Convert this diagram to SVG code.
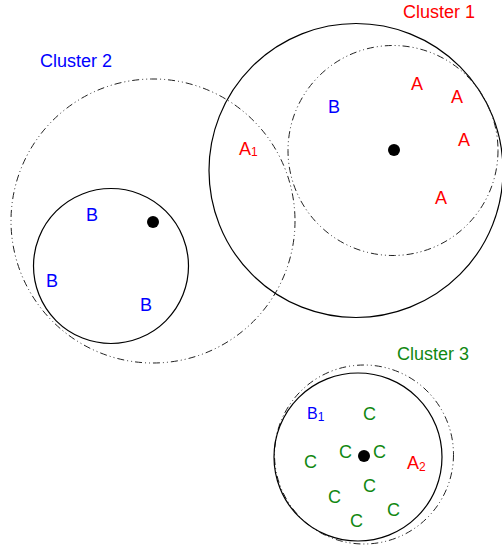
<svg xmlns="http://www.w3.org/2000/svg" width="502" height="549" viewBox="0 0 502 549">
  <style>
    .solid { fill: none; stroke: #000; stroke-width: 1.2; }
    .range { fill: none; stroke: #222; stroke-width: 1; stroke-dasharray: 7 3 1 3 1 3; }
    .centre { fill: #000; }
    text { font-family: "Liberation Sans", Arial, sans-serif; font-size: 18px; }
    .a { fill: #ff0000; }
    .b { fill: #0000ff; }
    .c { fill: #118811; }
    .sub { font-size: 12px; }
  </style>
  <rect width="502" height="549" fill="#fff"/>

  <g id="cluster2">
    <circle class="range" cx="153" cy="221" r="142"/>
    <circle class="solid" cx="111" cy="266" r="77.5"/>
    <circle class="centre" cx="153" cy="222" r="6"/>
    <text class="b" x="40" y="67">Cluster 2</text>
    <text class="b" x="86" y="221">B</text>
    <text class="b" x="46" y="287">B</text>
    <text class="b" x="140" y="311">B</text>
  </g>

  <g id="cluster1">
    <circle class="solid" cx="356" cy="170.5" r="147"/>
    <circle class="range" cx="393" cy="150.5" r="105"/>
    <circle class="centre" cx="394" cy="150" r="6"/>
    <text class="a" x="403" y="18">Cluster 1</text>
    <text class="a" x="411" y="90">A</text>
    <text class="a" x="451" y="103">A</text>
    <text class="a" x="458" y="146">A</text>
    <text class="a" x="435" y="204">A</text>
    <text class="b" x="328" y="113">B</text>
    <text class="a" x="239" y="155">A<tspan class="sub" dy="1">1</tspan></text>
  </g>

  <g id="cluster3">
    <circle class="range" cx="364" cy="454.5" r="89.5"/>
    <circle class="solid" cx="358" cy="457" r="84"/>
    <circle class="centre" cx="364" cy="456" r="6"/>
    <text class="c" x="397" y="360">Cluster 3</text>
    <text class="b" x="307" y="419" style="font-size:16px">B<tspan class="sub" dy="2">1</tspan></text>
    <text class="c" x="363" y="420">C</text>
    <text class="c" x="339" y="458">C</text>
    <text class="c" x="373" y="458">C</text>
    <text class="c" x="304" y="468">C</text>
    <text class="c" x="363" y="492">C</text>
    <text class="c" x="328" y="503">C</text>
    <text class="c" x="387" y="516">C</text>
    <text class="c" x="350" y="527">C</text>
    <text class="a" x="407" y="469">A<tspan class="sub" dy="2">2</tspan></text>
  </g>
</svg>
